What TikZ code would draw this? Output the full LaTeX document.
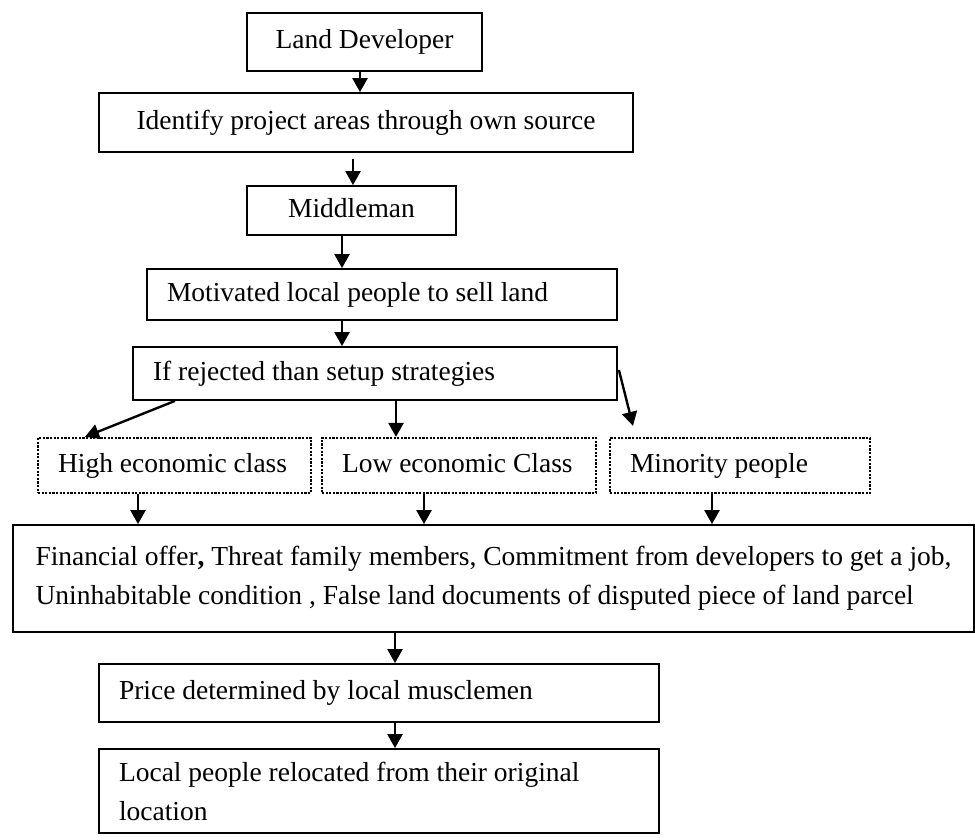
\documentclass[tikz,border=0pt]{standalone}
\usepackage{fontspec}
\setmainfont{Liberation Serif}
\usetikzlibrary{arrows.meta,calc}
\begin{document}
\begin{tikzpicture}[x=0.5pt,y=-0.5pt,
  font=\fontsize{13.75}{19.5}\selectfont,
  box/.style={draw, line width=0.9pt, inner sep=0pt, align=center},
  lbox/.style={draw, line width=0.9pt, inner ysep=0pt, inner xsep=10pt, align=flush left},
  dbox/.style={lbox, line width=1.1pt, dash pattern=on 1.1pt off 0.7pt},
  oneline/.style={text height=0.66em, text depth=0pt},
  arr/.style={line width=1.2pt, -{Triangle[width=7.5pt,length=7pt]}}]
\useasboundingbox (0,0) rectangle (975,840);

% main chain of steps
\node[box, oneline, minimum width=117.5pt, minimum height=29pt] (land) at (364.5,42) {Land Developer};
\node[box, oneline, minimum width=267pt, minimum height=29.5pt] (ident) at (366,122.5) {Identify project areas through own source};
\node[box, oneline, minimum width=104.5pt, minimum height=24.5pt] (middle) at (351.5,210.5) {Middleman};
\node[lbox, oneline, text width=215pt, minimum height=25.5pt] (motiv) at (382,294.5) {Motivated local people to sell land};
\node[lbox, oneline, text width=222pt, minimum height=26.5pt] (reject) at (375,373.5) {If rejected than setup strategies};

% target groups
\node[dbox, oneline, text width=116.5pt, minimum height=27.5pt] (high) at (174.5,465.5) {High economic class};
\node[dbox, oneline, text width=117pt, minimum height=27.5pt] (low) at (459,465.5) {Low economic Class};
\node[dbox, oneline, text width=110pt, minimum height=27.5pt] (minor) at (740,465.5) {Minority people};

% strategies and outcome
\node[box, minimum width=480.5pt, minimum height=53.5pt, align=flush left] (offer) at (493.5,578.5)
  {Financial offer\textbf{,} Threat family members, Commitment from developers to get a job,\\Uninhabitable condition , False land documents of disputed piece of land parcel};
\node[lbox, oneline, text width=260pt, minimum height=29pt] (price) at (379,693) {Price determined by local musclemen};
\node[lbox, text width=260pt, minimum height=42pt] (reloc) at (379,791) {Local people relocated from their original\\location};

% connectors
\draw[arr] ($(land.south)+(-4.5,0)$) -- ($(ident.north)+(-6,0)$);
\draw[arr] ($(ident.south)+(-13,6)$) -- ($(middle.north)+(1.5,0)$);
\draw[arr] ($(middle.south)+(-9.5,0)$) -- ($(motiv.north)+(-40,0)$);
\draw[arr] ($(motiv.south)+(-40,0)$) -- ($(reject.north)+(-33,0)$);
\draw[arr] ($(reject.south)+(-200,0)$) -- ($(high.north)+(-89.5,0)$);
\draw[arr] ($(reject.south)+(21,0)$) -- ($(low.north)+(-63,0)$);
\draw[arr] ($(reject.east)+(1,-3.5)$) -- ($(minor.north)+(-107,-11)$);
\draw[arr] ($(high.south)+(-36.5,0)$) -- ($(offer.north)+(-355.5,0)$);
\draw[arr] ($(low.south)+(-35,0)$) -- ($(offer.north)+(-69.5,0)$);
\draw[arr] ($(minor.south)+(-28,0)$) -- ($(offer.north)+(218.5,0)$);
\draw[arr] ($(offer.south)+(-98.5,0)$) -- ($(price.north)+(16,0)$);
\draw[arr] ($(price.south)+(16,0)$) -- ($(reloc.north)+(16,0)$);
\end{tikzpicture}
\end{document}
